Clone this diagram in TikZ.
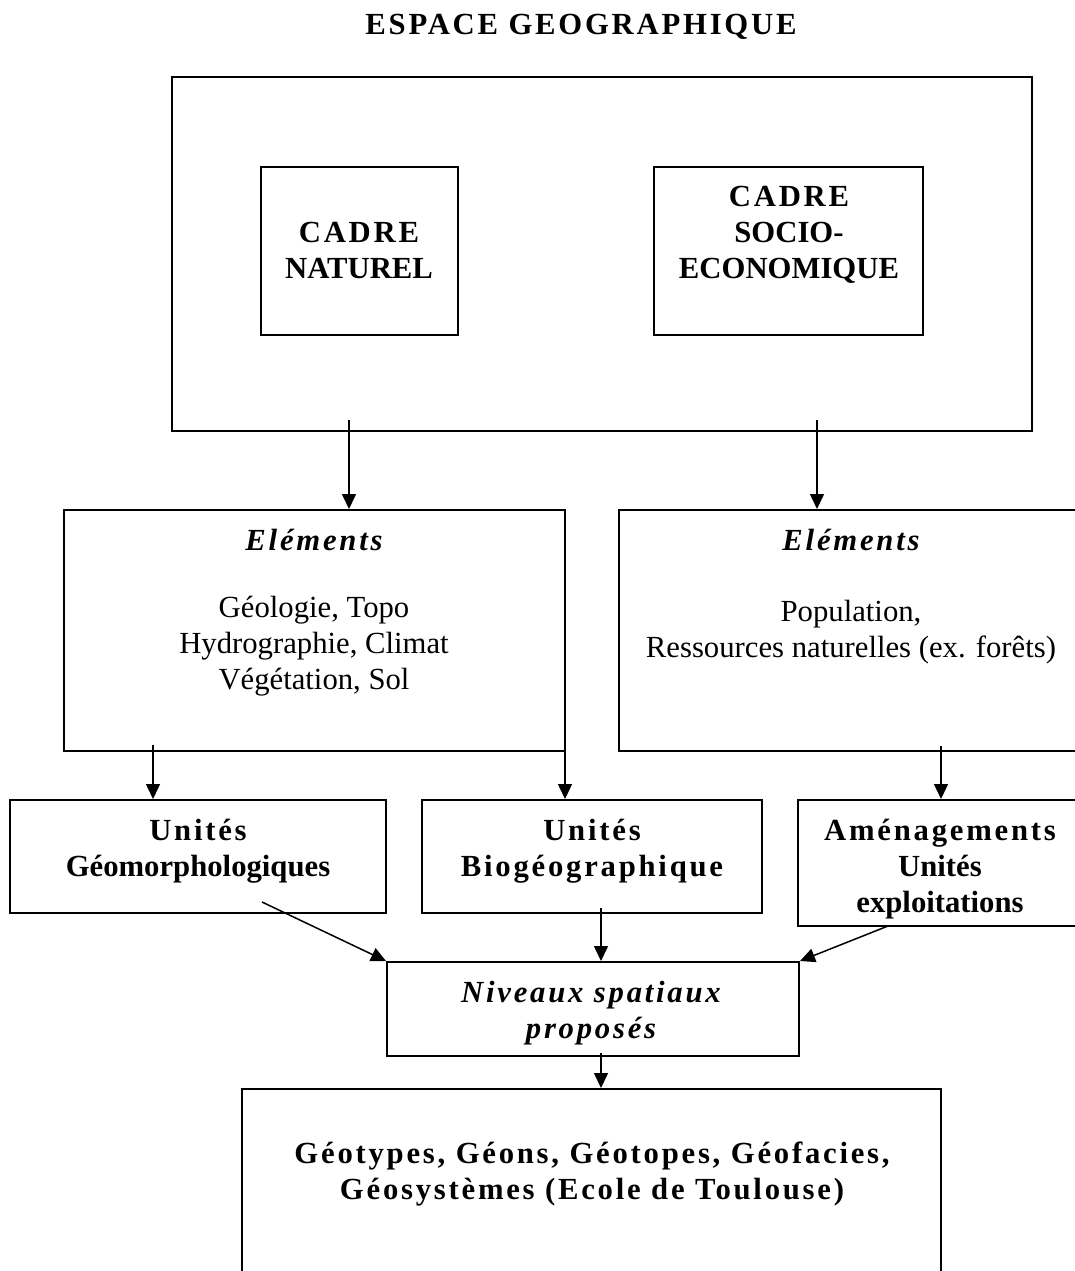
\documentclass[tikz,border=0pt]{standalone}
\usepackage{fontspec}
\setmainfont{Liberation Serif}
\newfontfamily\spc[LetterSpace=9]{Liberation Serif}
\usetikzlibrary{arrows.meta,calc}
\begin{document}
\begin{tikzpicture}[x=1pt,y=-1pt,
  box/.style={draw, line width=2pt, rectangle, inner sep=0pt},
  txt/.style={align=center, inner sep=0pt, anchor=base, font=\fontsize{30.7}{35.8}\selectfont},
  arr/.style={line width=1.5pt, -{Triangle[length=15pt,width=14pt]}}]
\useasboundingbox (0,0) rectangle (1075,1271);
\clip (0,0) rectangle (1075,1271);

% title (base anchor = baseline of the last line)
\node[txt] (title) at (581,35) {\spc\bfseries ESPACE GEOGRAPHIQUE};

% top frame
\node[box, minimum width=860pt, minimum height=354pt] (outer) at (602,254) {};
\node[box, minimum width=197pt, minimum height=168pt] (nat) at (359.5,251) {};
\node[txt] (natT) at (359,278) {{\spc\bfseries CADRE}\\\bfseries NATUREL};
\node[box, minimum width=269pt, minimum height=168pt] (soc) at (788.5,251) {};
\node[txt] (socT) at (789,278) {{\spc\bfseries CADRE}\\\bfseries SOCIO-\\\bfseries ECONOMIQUE};

% elements
\node[box, minimum width=501pt, minimum height=241pt] (elL) at (314.5,630.5) {};
\node[txt] (elLT) at (314,550) {\spc\bfseries\itshape El\'ements};
\node[txt] (elLB) at (314,689) {G\'eologie, Topo\\Hydrographie, Climat\\V\'eg\'etation, Sol};
\node[box, minimum width=464pt, minimum height=241pt] (elR) at (851,630.5) {};
\node[txt] (elRT) at (851,550) {\spc\bfseries\itshape El\'ements};
\node[txt] (elRB) at (851,657) {Population,\\Ressources naturelles (ex. for\^ets)};

% units
\node[box, minimum width=376pt, minimum height=113pt] (uG) at (198,856.5) {};
\node[txt] (uGT) at (198,876) {{\spc\bfseries Unit\'es}\\\bfseries G\'eomorphologiques};
\node[box, minimum width=340pt, minimum height=113pt] (uB) at (592,856.5) {};
\node[txt] (uBT) at (592,876) {{\spc\bfseries Unit\'es}\\\spc\bfseries Biog\'eographique};
\node[box, minimum width=286pt, minimum height=126pt] (am) at (941,863) {};
\node[txt] (amT) at (940,912) {{\spc\bfseries Am\'enagements}\\\bfseries Unit\'es\\\bfseries exploitations};

% niveaux
\node[box, minimum width=412pt, minimum height=94pt] (niv) at (593,1009) {};
\node[txt] (nivT) at (591,1038) {\spc\bfseries\itshape Niveaux spatiaux\\\spc\bfseries\itshape propos\'es};

% bottom
\node[box, minimum width=699pt, minimum height=300pt, anchor=north] (geo) at (591.5,1088) {};
\node[txt] (geoT) at (592,1199) {\spc\bfseries G\'eotypes, G\'eons, G\'eotopes, G\'eofacies,\\\spc\bfseries G\'eosyst\`emes (Ecole de Toulouse)};

% connectors
\coordinate (s1) at (349,420);
\coordinate (s2) at (817,420);
\draw[arr] (s1) -- (s1 |- elL.north);
\draw[arr] (s2) -- (s2 |- elR.north);
\coordinate (s3) at (153,745);
\coordinate (s4) at (565,745);
\coordinate (s5) at (941,746);
\draw[arr] (s3) -- (s3 |- uG.north);
\draw[arr] (s4) -- (s4 |- uB.north);
\draw[arr] (s5) -- (s5 |- am.north);
\coordinate (s6) at (262,902);
\coordinate (s7) at (601,908);
\coordinate (s8) at (888,926);
\draw[arr] (s6) -- (niv.north west);
\draw[arr] (s7) -- (s7 |- niv.north);
\draw[arr] (s8) -- (niv.north east);
\coordinate (s9) at (601,1053);
\draw[arr] (s9) -- (s9 |- geo.north);
\end{tikzpicture}
\end{document}
